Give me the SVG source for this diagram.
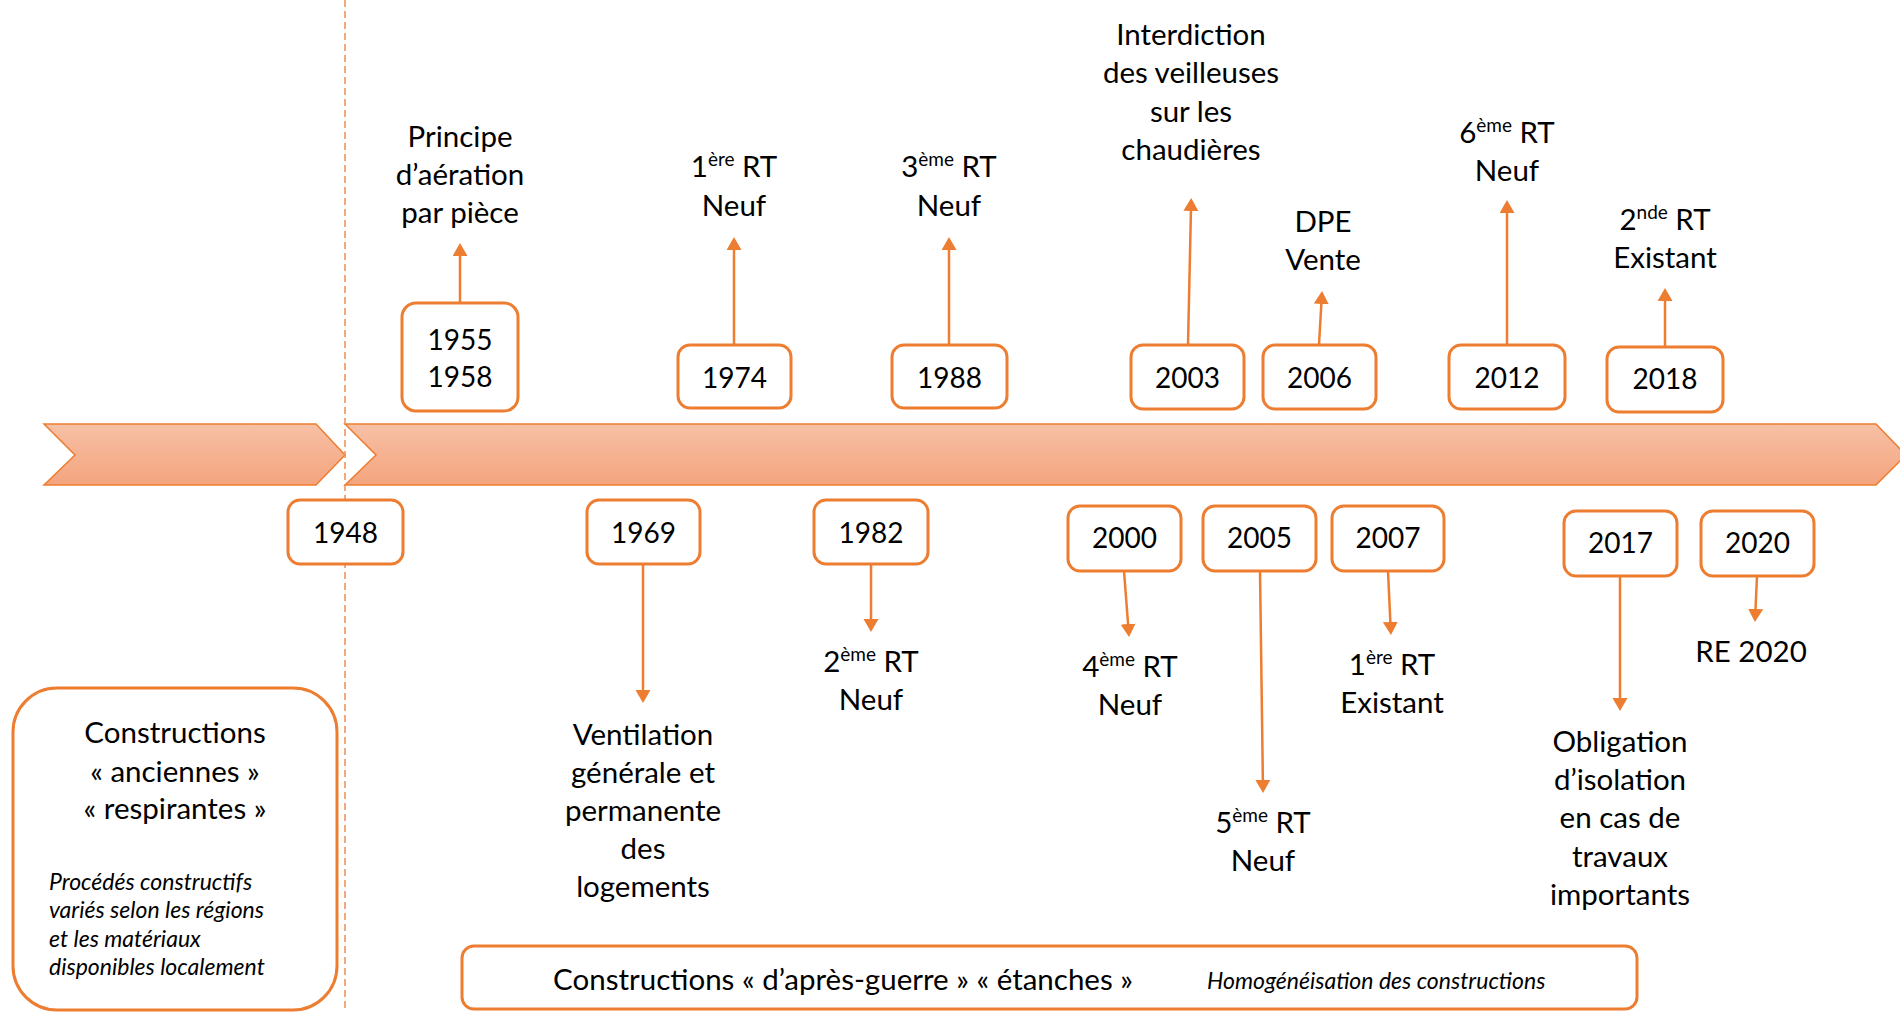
<svg xmlns="http://www.w3.org/2000/svg" width="1900" height="1012" viewBox="0 0 1900 1012">
<defs>
<linearGradient id="chev" x1="0" y1="0" x2="0" y2="1">
<stop offset="0" stop-color="#F7C0A5"/>
<stop offset="1" stop-color="#F4A47E"/>
</linearGradient>
<marker id="ah" markerUnits="userSpaceOnUse" markerWidth="14" markerHeight="16" refX="3" refY="7.5" orient="auto">
<path d="M0,0 L13,7.5 L0,15 z" fill="#ED7D31"/>
</marker>
<style>
.box{fill:#fff;stroke:#ED7D31;stroke-width:3}
.chev{fill:url(#chev);stroke:#ED7D31;stroke-width:1.5}
.yr{font-family:Lato,"Liberation Sans",sans-serif;font-size:28px;fill:#000;text-anchor:middle}
.lb{font-family:Lato,"Liberation Sans",sans-serif;font-size:29.5px;fill:#000;text-anchor:middle}
.it{font-family:Lato,"Liberation Sans",sans-serif;font-size:23px;font-style:italic;fill:#000}
.sup{font-size:19px}
.con line{stroke:#ED7D31;stroke-width:2.5;fill:none;marker-end:url(#ah)}
</style>
</defs>
<rect width="1900" height="1012" fill="#fff"/>

<g id="timeline">
<polygon class="chev" points="44,424 316,424 345,455 316,485 44,485 75,455"/>
<polygon class="chev" points="345,424 1876,424 1906,455 1876,485 345,485 376,455"/>
<line x1="345" y1="0" x2="345" y2="1012" stroke="#F08D50" stroke-width="1.5" stroke-dasharray="7,4"/>
</g>

<g class="con" id="connectors">
<line x1="460" y1="303" x2="460" y2="253"/>
<line x1="734" y1="345" x2="734" y2="247"/>
<line x1="949" y1="345" x2="949" y2="247"/>
<line x1="1188" y1="345" x2="1191" y2="208"/>
<line x1="1319" y1="345" x2="1321.5" y2="301"/>
<line x1="1507" y1="345" x2="1507" y2="210"/>
<line x1="1665" y1="347" x2="1665" y2="298"/>
<line x1="643" y1="564" x2="643" y2="693"/>
<line x1="871" y1="564" x2="871" y2="622"/>
<line x1="1124" y1="571" x2="1128.3" y2="627"/>
<line x1="1260" y1="571" x2="1262.9" y2="783"/>
<line x1="1388" y1="571" x2="1390.5" y2="625"/>
<line x1="1620" y1="576" x2="1620" y2="701"/>
<line x1="1757" y1="576" x2="1755.4" y2="612"/>
</g>

<g id="n1948"><rect class="box" x="288" y="500" width="115" height="64" rx="12"/><text class="yr" x="345.5" y="543">1948</text></g>
<g id="n1955"><rect class="box" x="402" y="303" width="116" height="108" rx="14"/><text class="yr" x="460" y="350">1955</text><text class="yr" x="460" y="387">1958</text></g>
<g id="l1955"><text class="lb" x="460" y="147">Principe</text><text class="lb" x="460" y="185">d’aération</text><text class="lb" x="460" y="223">par pièce</text></g>

<g id="n1969"><rect class="box" x="587" y="500" width="113" height="64" rx="12"/><text class="yr" x="643.5" y="543">1969</text></g>
<g id="l1969"><text class="lb" x="643" y="745">Ventilation</text><text class="lb" x="643" y="783">générale et</text><text class="lb" x="643" y="821">permanente</text><text class="lb" x="643" y="859">des</text><text class="lb" x="643" y="897">logements</text></g>

<g id="n1974"><rect class="box" x="678" y="345" width="113" height="63" rx="12"/><text class="yr" x="734.5" y="388">1974</text></g>
<g id="l1974"><text class="lb" x="734" y="177">1<tspan class="sup" dy="-11">ère</tspan><tspan dy="11"> RT</tspan></text><text class="lb" x="734" y="216">Neuf</text></g>

<g id="n1982"><rect class="box" x="814" y="500" width="114" height="64" rx="12"/><text class="yr" x="871" y="543">1982</text></g>
<g id="l1982"><text class="lb" x="871" y="672">2<tspan class="sup" dy="-11">ème</tspan><tspan dy="11"> RT</tspan></text><text class="lb" x="871" y="710">Neuf</text></g>

<g id="n1988"><rect class="box" x="892" y="345" width="115" height="63" rx="12"/><text class="yr" x="949.5" y="388">1988</text></g>
<g id="l1988"><text class="lb" x="949" y="177">3<tspan class="sup" dy="-11">ème</tspan><tspan dy="11"> RT</tspan></text><text class="lb" x="949" y="216">Neuf</text></g>

<g id="n2000"><rect class="box" x="1068" y="506" width="113" height="65" rx="12"/><text class="yr" x="1124.5" y="548">2000</text></g>
<g id="l2000"><text class="lb" x="1130" y="677">4<tspan class="sup" dy="-11">ème</tspan><tspan dy="11"> RT</tspan></text><text class="lb" x="1130" y="715">Neuf</text></g>

<g id="n2003"><rect class="box" x="1131" y="345" width="113" height="64" rx="12"/><text class="yr" x="1187.5" y="388">2003</text></g>
<g id="l2003"><text class="lb" x="1191" y="45">Interdiction</text><text class="lb" x="1191" y="83">des veilleuses</text><text class="lb" x="1191" y="122">sur les</text><text class="lb" x="1191" y="160">chaudières</text></g>

<g id="n2005"><rect class="box" x="1203" y="506" width="113" height="65" rx="12"/><text class="yr" x="1259.5" y="548">2005</text></g>
<g id="l2005"><text class="lb" x="1263" y="833">5<tspan class="sup" dy="-11">ème</tspan><tspan dy="11"> RT</tspan></text><text class="lb" x="1263" y="871">Neuf</text></g>

<g id="n2006"><rect class="box" x="1263" y="345" width="113" height="64" rx="12"/><text class="yr" x="1319.5" y="388">2006</text></g>
<g id="l2006"><text class="lb" x="1323" y="232">DPE</text><text class="lb" x="1323" y="270">Vente</text></g>

<g id="n2007"><rect class="box" x="1332" y="506" width="112" height="65" rx="12"/><text class="yr" x="1388" y="548">2007</text></g>
<g id="l2007"><text class="lb" x="1392" y="675">1<tspan class="sup" dy="-11">ère</tspan><tspan dy="11"> RT</tspan></text><text class="lb" x="1392" y="713">Existant</text></g>

<g id="n2012"><rect class="box" x="1449" y="345" width="116" height="64" rx="12"/><text class="yr" x="1507" y="388">2012</text></g>
<g id="l2012"><text class="lb" x="1507" y="143">6<tspan class="sup" dy="-11">ème</tspan><tspan dy="11"> RT</tspan></text><text class="lb" x="1507" y="181">Neuf</text></g>

<g id="n2017"><rect class="box" x="1564" y="511" width="113" height="65" rx="12"/><text class="yr" x="1620.5" y="553">2017</text></g>
<g id="l2017"><text class="lb" x="1620" y="752">Obligation</text><text class="lb" x="1620" y="790">d’isolation</text><text class="lb" x="1620" y="828">en cas de</text><text class="lb" x="1620" y="867">travaux</text><text class="lb" x="1620" y="905">importants</text></g>

<g id="n2018"><rect class="box" x="1607" y="347" width="116" height="65" rx="12"/><text class="yr" x="1665" y="389">2018</text></g>
<g id="l2018"><text class="lb" x="1665" y="230">2<tspan class="sup" dy="-11">nde</tspan><tspan dy="11"> RT</tspan></text><text class="lb" x="1665" y="268">Existant</text></g>

<g id="n2020"><rect class="box" x="1701" y="511" width="113" height="65" rx="12"/><text class="yr" x="1757.5" y="553">2020</text></g>
<g id="l2020"><text class="lb" x="1751" y="662">RE 2020</text></g>

<g id="anciennes">
<rect class="box" x="13" y="688" width="324" height="322" rx="44"/>
<text class="lb" x="175" y="743">Constructions</text>
<text class="lb" x="175" y="782">« anciennes »</text>
<text class="lb" x="175" y="819">« respirantes »</text>
<text class="it" x="49" y="890">Procédés constructifs</text>
<text class="it" x="49" y="918">variés selon les régions</text>
<text class="it" x="49" y="947">et les matériaux</text>
<text class="it" x="49" y="975">disponibles localement</text>
</g>

<g id="apres-guerre">
<rect class="box" x="462" y="946" width="1175" height="63" rx="12"/>
<text class="lb" x="843" y="990" font-size="30.5px">Constructions « d’après-guerre » « étanches »</text>
<text class="it" x="1207" y="989" font-size="24.5px">Homogénéisation des constructions</text>
</g>
</svg>
